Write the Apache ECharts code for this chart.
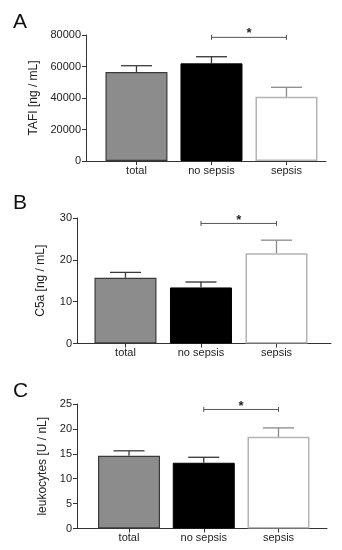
<!DOCTYPE html>
<html><head><meta charset="utf-8">
<script src="https://cdn.jsdelivr.net/npm/echarts@6/dist/echarts.min.js"></script>
<style>html,body{margin:0;padding:0;background:#fff}#c{width:342px;height:550px}</style>
</head><body><div id="c"></div>
<script>
var categories = ['total', 'no sepsis', 'sepsis'];
var tafiMean = [56500, 62000, 40800];
var tafiErr = [4000, 4200, 6000];
var c5aMean = [15.7, 13.4, 21.6];
var c5aErr = [1.3, 1.3, 3.1];
var leukMean = [14.6, 13.2, 18.4];
var leukErr = [1.0, 1.1, 1.8];
var sigA = 78500, sigB = 28.7, sigC = 23.9;
var panelLetters = ['A', 'B', 'C'];
var yNames = ['TAFI [ng / mL]', 'C5a [ng / mL]', 'leukocytes [U / nL]'];

var FONT = '"Liberation Sans", Arial, sans-serif';
var barStyles = [
  {color: '#8c8c8c', borderColor: '#3a3a3a', borderWidth: 1.2},
  {color: '#000000', borderColor: '#000000', borderWidth: 1},
  {color: '#ffffff', borderColor: '#b4b4b4', borderWidth: 1.5}
];
var errColors = ['#3a3a3a', '#333333', '#8a8a8a'];

var panels = [
  {mean: tafiMean, err: tafiErr, sig: sigA, ymax: 80000, yint: 20000, grid: {left: 86, top: 35, width: 240, height: 126}, xmin: -0.673, xmax: 2.527, nameGap: 36},
  {mean: c5aMean, err: c5aErr, sig: sigB, ymax: 30, yint: 10, grid: {left: 77, top: 218, width: 254, height: 125.5}, xmin: -0.642, xmax: 2.722, nameGap: 30},
  {mean: leukMean, err: leukErr, sig: sigC, ymax: 25, yint: 5, grid: {left: 77, top: 404, width: 250, height: 124.5}, xmin: -0.696, xmax: 2.649, nameGap: 24}
];

var grids = [], xAxes = [], yAxes = [], series = [];
panels.forEach(function (p, k) {
  grids.push(p.grid);
  xAxes.push({
    type: 'value', gridIndex: k, min: p.xmin, max: p.xmax,
    splitLine: {show: false},
    axisLine: {show: true, onZero: false, lineStyle: {color: '#333', width: 1}},
    axisTick: {show: true, length: 4, lineStyle: {color: '#333'}, customValues: [0, 1, 2]},
    axisLabel: {customValues: [0, 1, 2], formatter: function (v) { return categories[Math.round(v)]; },
      color: '#222', fontFamily: FONT, fontSize: 11, margin: 4}
  });
  yAxes.push({
    type: 'value', gridIndex: k, min: 0, max: p.ymax, interval: p.yint,
    name: yNames[k], nameLocation: 'middle', nameGap: p.nameGap, nameRotate: 90,
    nameTextStyle: {fontFamily: FONT, fontSize: 12, color: '#222'},
    splitLine: {show: false},
    axisLine: {show: true, onZero: false, lineStyle: {color: '#333', width: 1}},
    axisTick: {show: true, length: 4, lineStyle: {color: '#333'}},
    axisLabel: {color: '#222', fontFamily: FONT, fontSize: 11, margin: 5,
      formatter: function (v) { return String(v); }}
  });
  series.push({
    type: 'bar', xAxisIndex: k, yAxisIndex: k, barWidth: 62, silent: true,
    data: p.mean.map(function (m, i) { return {value: [i, m], itemStyle: barStyles[i]}; }),
    z: 2
  });
  series.push({
    type: 'custom', xAxisIndex: k, yAxisIndex: k, silent: true, z: 3,
    data: p.mean.map(function (m, i) { return [i, m, m + p.err[i]]; }),
    renderItem: function (params, api) {
      var i = api.value(0);
      var b = api.coord([i, api.value(1)]);
      var t = api.coord([i, api.value(2)]);
      var c = errColors[i];
      return {type: 'group', children: [
        {type: 'line', shape: {x1: b[0], y1: b[1], x2: t[0], y2: t[1]}, style: {stroke: c, lineWidth: 1.3}},
        {type: 'line', shape: {x1: t[0] - 15.5, y1: t[1], x2: t[0] + 15.5, y2: t[1]}, style: {stroke: c, lineWidth: 1.3}}
      ]};
    }
  });
  series.push({
    type: 'custom', xAxisIndex: k, yAxisIndex: k, silent: true, z: 3,
    data: [[1, 2, p.sig]],
    renderItem: function (params, api) {
      var a = api.coord([api.value(0), api.value(2)]);
      var b = api.coord([api.value(1), api.value(2)]);
      return {type: 'group', children: [
        {type: 'line', shape: {x1: a[0], y1: a[1], x2: b[0], y2: b[1]}, style: {stroke: '#555', lineWidth: 1}},
        {type: 'line', shape: {x1: a[0], y1: a[1] - 2.5, x2: a[0], y2: a[1] + 2.5}, style: {stroke: '#555', lineWidth: 1}},
        {type: 'line', shape: {x1: b[0], y1: b[1] - 2.5, x2: b[0], y2: b[1] + 2.5}, style: {stroke: '#555', lineWidth: 1}},
        {type: 'text', style: {text: '*', x: (a[0] + b[0]) / 2, y: a[1] + 3, align: 'center', verticalAlign: 'bottom',
          font: 'bold 13px ' + FONT, fill: '#222'}}
      ]};
    }
  });
});

var letterTops = [12, 193, 381];
var chart = echarts.init(document.getElementById('c'), null, {renderer: 'canvas'});
chart.setOption({
  animation: false,
  backgroundColor: '#fff',
  grid: grids, xAxis: xAxes, yAxis: yAxes, series: series,
  graphic: panelLetters.map(function (L, k) {
    return {type: 'text', left: 13, top: letterTops[k], style: {text: L, font: '21px ' + FONT, fill: '#111'}};
  })
});
</script></body></html>
